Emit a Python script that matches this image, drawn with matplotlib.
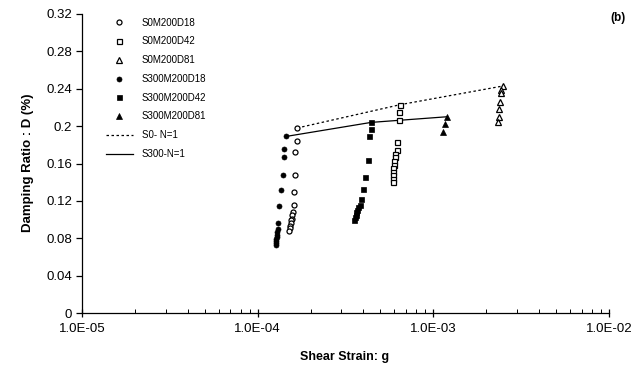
import matplotlib
matplotlib.use("Agg")
import matplotlib.pyplot as plt
from matplotlib.ticker import FixedLocator, LogLocator, NullFormatter

plt.rcParams['font.family'] = ['Liberation Sans', 'DejaVu Sans']

# S0M200D18 (open circles)
s0d18_x = [1.68e-4, 1.67e-4, 1.64e-4, 1.63e-4, 1.62e-4, 1.60e-4, 1.59e-4,
           1.574e-4, 1.56e-4, 1.552e-4, 1.541e-4, 1.534e-4, 1.52e-4, 1.507e-4]
s0d18_y = [0.198, 0.184, 0.172, 0.148, 0.130, 0.116, 0.108,
           0.105, 0.101, 0.099, 0.096, 0.093, 0.091, 0.088]
# S0M200D42 (open squares)
s0d42_x = [6.49e-4, 6.40e-4, 6.35e-4, 6.25e-4, 6.20e-4, 6.05e-4, 6.02e-4,
           6.00e-4, 5.94e-4, 5.93e-4, 5.90e-4, 5.87e-4, 5.87e-4, 5.87e-4]
s0d42_y = [0.223, 0.215, 0.2065, 0.183, 0.174, 0.170, 0.167,
           0.163, 0.158, 0.155, 0.151, 0.148, 0.143, 0.140]
# S0M200D81 (open triangles)
s0d81_x = [2.50e-3, 2.44e-3, 2.43e-3, 2.41e-3, 2.37e-3, 2.36e-3, 2.32e-3]
s0d81_y = [0.243, 0.239, 0.235, 0.226, 0.218, 0.210, 0.204]
# S300M200D18 (filled circles)
s3d18_x = [1.456e-4, 1.42e-4, 1.42e-4, 1.39e-4, 1.36e-4, 1.33e-4, 1.31e-4,
           1.30e-4, 1.295e-4, 1.29e-4, 1.285e-4, 1.28e-4, 1.275e-4, 1.27e-4, 1.265e-4]
s3d18_y = [0.189, 0.175, 0.167, 0.148, 0.132, 0.115, 0.096,
           0.090, 0.087, 0.084, 0.081, 0.079, 0.077, 0.075, 0.073]
# S300M200D42 (filled squares)
s3d42_x = [4.43e-4, 4.40e-4, 4.33e-4, 4.23e-4, 4.10e-4, 4.00e-4, 3.90e-4,
           3.80e-4, 3.73e-4, 3.69e-4, 3.64e-4, 3.61e-4, 3.57e-4, 3.54e-4]
s3d42_y = [0.204, 0.197, 0.189, 0.164, 0.146, 0.133, 0.122,
           0.116, 0.113, 0.110, 0.108, 0.105, 0.103, 0.100]
# S300M200D81 (filled triangles)
s3d81_x = [1.19e-3, 1.16e-3, 1.13e-3]
s3d81_y = [0.210, 0.202, 0.194]
# N=1 lines
s0n1_x = [1.68e-4, 6.49e-4, 2.50e-3]
s0n1_y = [0.198, 0.223, 0.243]
s3n1_x = [1.456e-4, 4.43e-4, 1.19e-3]
s3n1_y = [0.189, 0.204, 0.210]

y_ticks = [0, 0.04, 0.08, 0.12, 0.16, 0.2, 0.24, 0.28, 0.32]
y_tick_labels = ['0', '0.04', '0.08', '0.12', '0.16', '0.2', '0.24', '0.28', '0.32']
x_ticks = [1e-5, 1e-4, 1e-3, 1e-2]
x_tick_labels = ['1.0E-05', '1.0E-04', '1.0E-03', '1.0E-02']

fig = plt.figure(figsize=(6.43, 3.78), dpi=100)
ax = fig.add_axes([82/643, 1-313/378, (609-82)/643, (313-14)/378])

ms = 3.6
ax.plot(s0d18_x, s0d18_y, 'o', ms=ms, mfc='white', mec='black', mew=0.9, label='S0M200D18', zorder=3)
ax.plot(s0d42_x, s0d42_y, 's', ms=ms, mfc='white', mec='black', mew=0.9, label='S0M200D42', zorder=3)
ax.plot(s0d81_x, s0d81_y, '^', ms=ms+0.4, mfc='white', mec='black', mew=0.9, label='S0M200D81', zorder=3)
ax.plot(s3d18_x, s3d18_y, 'o', ms=ms, mfc='black', mec='black', mew=0.5, label='S300M200D18', zorder=3)
ax.plot(s3d42_x, s3d42_y, 's', ms=ms, mfc='black', mec='black', mew=0.5, label='S300M200D42', zorder=3)
ax.plot(s3d81_x, s3d81_y, '^', ms=ms+0.4, mfc='black', mec='black', mew=0.5, label='S300M200D81', zorder=3)
ax.plot(s0n1_x, s0n1_y, color='black', lw=0.9, linestyle=(0, (2, 2)), label='S0- N=1', zorder=2)
ax.plot(s3n1_x, s3n1_y, color='black', lw=0.9, linestyle='-', label='S300-N=1', zorder=2)

ax.set_xscale('log')
ax.set_xlim(1e-5, 1e-2)
ax.set_ylim(0, 0.32)
ax.xaxis.set_major_locator(FixedLocator(x_ticks))
ax.set_xticklabels(x_tick_labels)
ax.xaxis.set_minor_locator(LogLocator(base=10, subs=range(2, 10)))
ax.xaxis.set_minor_formatter(NullFormatter())
ax.set_yticks(y_ticks)
ax.set_yticklabels(y_tick_labels)

for s in ['top', 'right']:
    ax.spines[s].set_visible(False)
for s in ['left', 'bottom']:
    ax.spines[s].set_linewidth(0.9)

ax.tick_params(axis='x', which='major', direction='inout', length=6, width=0.9, labelsize=9.5, pad=4)
ax.tick_params(axis='x', which='minor', direction='in', length=3, width=0.7)
ax.tick_params(axis='y', which='major', direction='out', length=4, width=0.9, labelsize=9.5, pad=3)

fig.text(28/643, 1-163/378, 'Damping Ratio : D (%)', rotation=90, ha='center', va='center',
         fontsize=9.5, fontweight='bold')
fig.text(345/643, 1-357/378, 'Shear Strain: g', ha='center', va='center',
         fontsize=9, fontweight='bold')
fig.text(618/643, 1-18/378, '(b)', ha='center', va='center', fontsize=8.5, fontweight='bold')

leg = ax.legend(loc='upper left', bbox_to_anchor=(0.034, 1.007), frameon=False, fontsize=7,
                handlelength=2.8, handletextpad=0.9, labelspacing=0.9, borderaxespad=0.2)

fig.savefig('out.png', dpi=100)
